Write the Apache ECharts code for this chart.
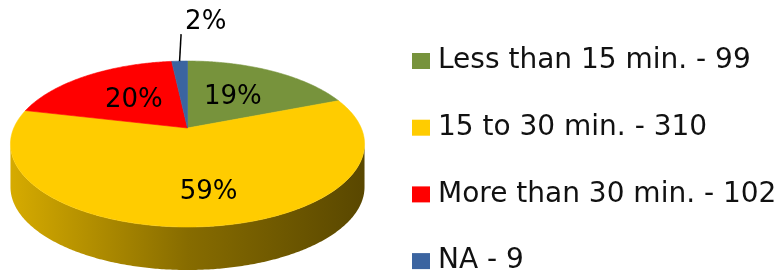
<!DOCTYPE html>
<html>
<head>
<meta charset="utf-8">
<title>Travel time</title>
<script src="https://cdn.jsdelivr.net/npm/echarts@6/dist/echarts.min.js"></script>
<style>
  html, body { margin: 0; padding: 0; background: #fff; }
  #chart { width: 781px; height: 276px; }
</style>
</head>
<body>
<div id="chart"></div>
<script>
// values
const categories = ['Less than 15 min.', '15 to 30 min.', 'More than 30 min.', 'NA']
const counts = [99, 310, 102, 9]
const pctLabels = ['19%', '59%', '20%', '2%']
const colors = ['#77933c', '#ffcc00', '#ff0000', '#3b64a0']

// tilted pie: perspective view of a flat disc
const cx = 187.5
const cy = 128 // where the disc centre lands
const ax = 173.7
const by = 79.9
const persp = 0.193 // front half looks bigger than back half
const depth = 43

const total = counts.reduce((a, b) => a + b, 0)
const starts = []
let acc = 0
counts.forEach(v => { starts.push(acc); acc += v })

function proj (t, th) {
  const k = 1 - persp * t * Math.sin(th)
  return [cx + ax * t * Math.cos(th) / k, cy + by * t * Math.sin(th) / k]
}

function shade (hex, f) {
  const c = echarts.color.parse(hex)
  return 'rgb(' + [0, 1, 2].map(i => Math.round(c[i] * f)).join(',') + ')'
}

function arc (t, a0, a1, dy) {
  const pts = []
  const n = Math.max(2, Math.ceil((a1 - a0) / 0.01))
  for (let i = 0; i <= n; i++) {
    const p = proj(t, a0 + (a1 - a0) * i / n)
    pts.push([p[0], p[1] + dy])
  }
  return pts
}

function makeRender (i) {
  return function (params, api) {
    const v = api.value(0)
    const a0 = -Math.PI / 2 + starts[i] / total * Math.PI * 2
    const a1 = a0 + v / total * Math.PI * 2
    const color = api.visual('color')
    const children = []

    // side wall, only the front of the rim shows
    const lo = Math.asin(persp)
    const hi = Math.PI - lo
    const s0 = Math.max(a0, lo)
    const s1 = Math.min(a1, hi)
    if (s1 > s0) {
      const top = arc(1, s0, s1, 0)
      const bottom = arc(1, s0, s1, depth).reverse()
      const w = ax / Math.sqrt(1 - persp * persp)
      children.push({
        type: 'polygon',
        z2: 1,
        shape: { points: top.concat(bottom) },
        style: {
          fill: new echarts.graphic.LinearGradient(cx - w, 0, cx + w, 0, [
            { offset: 0, color: shade(color, 0.84) },
            { offset: 0.5, color: shade(color, 0.53) },
            { offset: 1, color: shade(color, 0.35) }
          ], true)
        }
      })
    }

    // top face
    children.push({
      type: 'polygon',
      z2: 2,
      shape: { points: [[cx, cy]].concat(arc(1, a0, a1, 0)) },
      style: { fill: color, stroke: color, lineWidth: 0.6 }
    })

    const mid = (a0 + a1) / 2
    const front = Math.max(0, Math.sin(mid))
    if (v / total > 0.05) {
      const p = proj(0.5 + 0.2 * front, mid)
      children.push({
        type: 'text',
        z2: 3,
        x: p[0] + 11 * front,
        y: p[1],
        style: { text: pctLabels[i], fill: '#000', fontSize: 26, fontFamily: 'DejaVu Sans', align: 'center', verticalAlign: 'middle' }
      })
    } else {
      // small slice: label outside with a leader line
      const p = proj(1, mid)
      children.push({
        type: 'line',
        z2: 3,
        shape: { x1: p[0], y1: p[1], x2: p[0] + 1.5, y2: p[1] - 27 },
        style: { stroke: '#000', lineWidth: 1.5 }
      })
      children.push({
        type: 'text',
        z2: 3,
        x: p[0] + 5.5,
        y: p[1] - 39,
        style: { text: pctLabels[i], fill: '#000', fontSize: 26, fontFamily: 'DejaVu Sans', align: 'left', verticalAlign: 'middle' }
      })
    }
    return { type: 'group', children }
  }
}

const chart = echarts.init(document.getElementById('chart'))
chart.setOption({
  animation: false,
  legend: {
    orient: 'vertical',
    left: 412,
    top: 47,
    height: 250,
    padding: 0,
    icon: 'rect',
    itemWidth: 18,
    itemHeight: 16,
    itemGap: 38.7,
    selectedMode: false,
    textStyle: { fontFamily: 'DejaVu Sans', fontSize: 28, color: '#111', padding: [0, 0, 0, 3] }
  },
  series: categories.map((c, i) => ({
    type: 'custom',
    name: c + ' - ' + counts[i],
    coordinateSystem: 'none',
    silent: true,
    itemStyle: { color: colors[i] },
    data: [[counts[i]]],
    renderItem: makeRender(i)
  }))
})
</script>
</body>
</html>
